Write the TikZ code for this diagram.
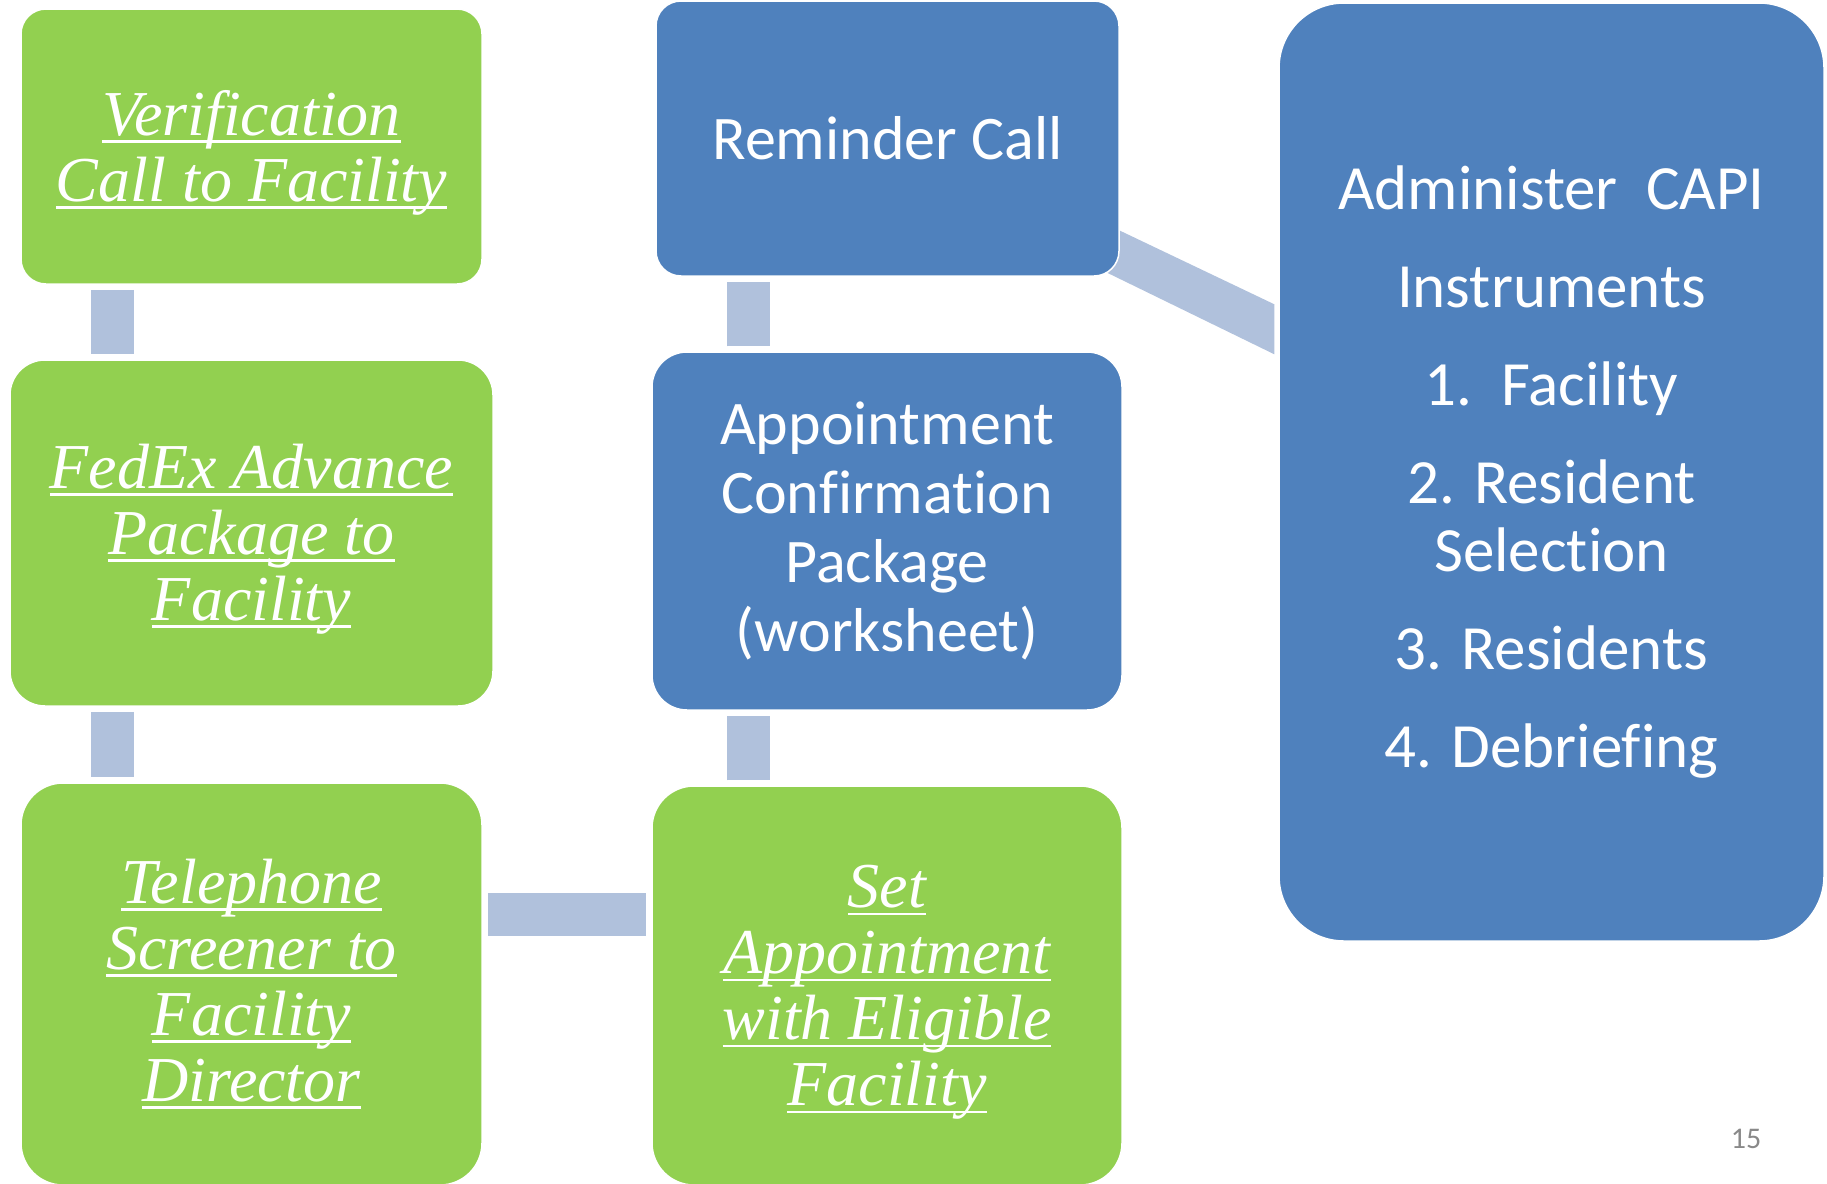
\documentclass[tikz,border=0pt]{standalone}
\usepackage{fontspec}
\setmainfont{Liberation Serif}
\newfontfamily\calib{Carlito}[Ligatures=NoCommon]
\usetikzlibrary{calc}
\pgfdeclarelayer{background}
\pgfsetlayers{background,main}
\definecolor{grn}{RGB}{146,208,80}
\definecolor{blu}{RGB}{79,129,189}
\definecolor{lnk}{RGB}{176,193,220}
\definecolor{pgnum}{RGB}{137,137,137}
\newcommand\ulin[1]{\setbox0=\hbox{#1}\rlap{\rule[-0.12em]{\wd0}{0.045em}}\box0}
\begin{document}
\begin{tikzpicture}[x=1pt,y=-1pt,
  box/.style={rectangle, inner sep=0pt, draw=white, line width=1.5pt},
  gbox/.style={box, fill=grn},
  bbox/.style={box, fill=blu, align=center, text=white, font=\calib\fontsize{62}{69}\selectfont},
  gtext/.style={align=center, text=white, inner sep=0pt, font=\itshape\fontsize{64}{66}\selectfont},
  conn/.style={draw=lnk, line width=43pt, shorten <=5pt, shorten >=5pt}]
\useasboundingbox (0,0) rectangle (1827,1183);
\clip (0,0) rectangle (1827,1183);

\node[gbox, minimum width=461pt, minimum height=275pt, rounded corners=25pt] (ver) at (251.5,146.5) {};
\node[gtext] (verT) at ($(ver)+(0,6)$) {\ulin{Verification}\\\ulin{Call to Facility}};
\node[gbox, minimum width=483pt, minimum height=346pt, rounded corners=35pt] (fed) at (251.5,533) {};
\node[gtext] (fedT) at ($(fed)+(0,6)$) {\ulin{FedEx Advance}\\\ulin{Package to}\\\ulin{Facility}};
\node[gbox, minimum width=461pt, minimum height=402pt, rounded corners=42pt] (tel) at (251.5,984) {};
\node[gtext] (telT) at (tel) {\ulin{Telephone}\\\ulin{Screener to}\\\ulin{Facility}\\\ulin{Director}};
\node[gbox, minimum width=470pt, minimum height=399pt, rounded corners=42pt] (set) at (887,985.5) {};
\node[gtext] (setT) at ($(set)+(0,7)$) {\ulin{Set}\\\ulin{Appointment}\\\ulin{with Eligible}\\\ulin{Facility}};
\node[bbox, minimum width=470pt, minimum height=358pt, rounded corners=35pt] (app) at (887,531)
  {Appointment\\Confirmation\\Package\\(worksheet)};
\node[bbox, minimum width=463pt, minimum height=275pt, rounded corners=25pt] (rem) at (887.5,138.5)
  {Reminder Call};
\node[bbox, minimum width=545pt, minimum height=938pt, rounded corners=65pt,
  font=\calib\fontsize{63}{68}\selectfont] (adm) at (1551.5,472)
  {Administer\ \ CAPI\\[30pt]Instruments\\[30pt]1.\ \ Facility\\[30pt]2. Resident\\Selection\\[30pt]3. Residents\\[30pt]4. Debriefing};
\node[font=\calib\fontsize{30}{36}\selectfont, text=pgnum, anchor=base] (pg) at (1746,1148) {15};

\begin{pgfonlayer}{background}
\draw[conn] ($(ver.south)+(-139,0)$) -- ($(fed.north)+(-139,0)$);
\draw[conn] ($(fed.south)+(-139,0)$) -- ($(tel.north)+(-139,0)$);
\draw[conn] ($(tel.east)+(0,-69.5)$) -- ($(set.west)+(0,-71)$);
\draw[conn] ($(set.north)+(-139,0)$) -- ($(app.south)+(-139,0)$);
\draw[conn] ($(app.north)+(-139,0)$) -- ($(rem.south)+(-139.5,0)$);
\fill[lnk] ($(rem.south east)+(-29,-60)$) -- ($(adm.north west)+(-4,302)$)
  -- ($(adm.north west)+(-4,352)$) -- ($(rem.south east)+(-29,-12)$) -- cycle;
\end{pgfonlayer}
\end{tikzpicture}
\end{document}
